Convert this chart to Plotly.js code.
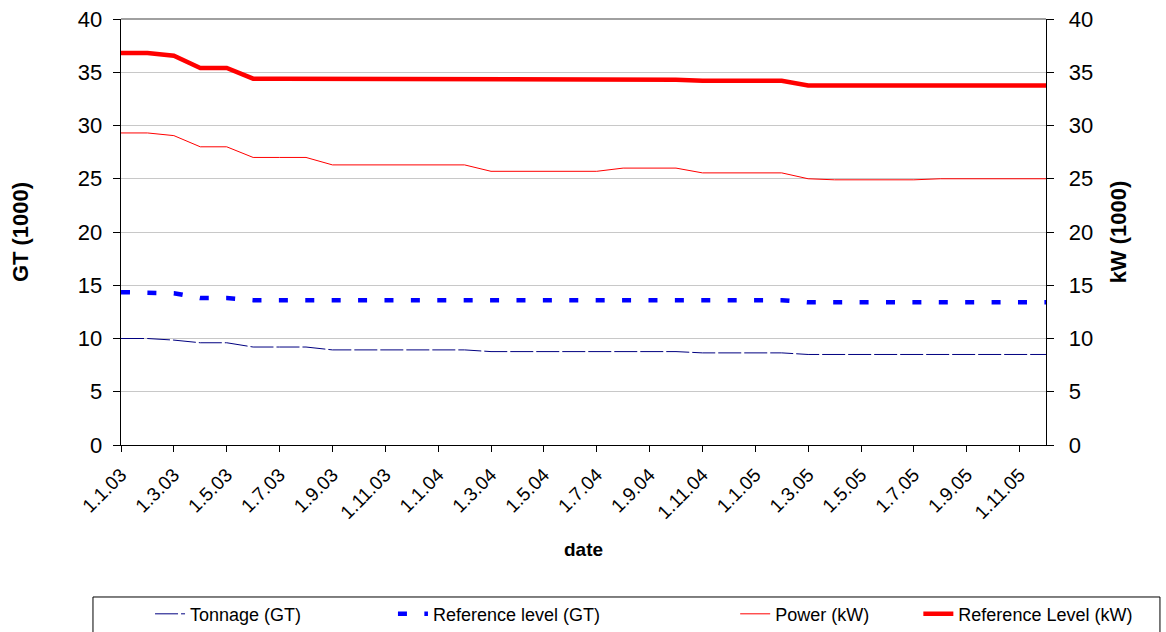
<!DOCTYPE html>
<html>
<head>
<meta charset="utf-8">
<script src="https://cdn.plot.ly/plotly-3.0.1.min.js"></script>
<style>html,body{margin:0;padding:0;background:#fff;}#chart{width:1166px;height:632px;}</style>
</head>
<body>
<div id="chart"></div>
<script>
// Months (d.m.yy), one data point per month
const months = [
  "1.1.03","1.2.03","1.3.03","1.4.03","1.5.03","1.6.03","1.7.03","1.8.03","1.9.03","1.10.03","1.11.03","1.12.03",
  "1.1.04","1.2.04","1.3.04","1.4.04","1.5.04","1.6.04","1.7.04","1.8.04","1.9.04","1.10.04","1.11.04","1.12.04",
  "1.1.05","1.2.05","1.3.05","1.4.05","1.5.05","1.6.05","1.7.05","1.8.05","1.9.05","1.10.05","1.11.05","1.12.05"
];
// Tick labels shown on the x axis
const tickLabels = [
  "1.1.03","1.3.03","1.5.03","1.7.03","1.9.03","1.11.03",
  "1.1.04","1.3.04","1.5.04","1.7.04","1.9.04","1.11.04",
  "1.1.05","1.3.05","1.5.05","1.7.05","1.9.05","1.11.05"
];
// Series values (thousands)
const tonnageGT = [10.0,10.0,9.85,9.6,9.6,9.2,9.2,9.2,8.93,8.93,8.93,8.93,8.93,8.93,
  8.77,8.77,8.77,8.77,8.77,8.77,8.77,8.77,8.65,8.65,8.65,8.65,
  8.5,8.5,8.5,8.5,8.5,8.5,8.5,8.5,8.5,8.5];
const refLevelGT = [14.35,14.35,14.25,13.8,13.8,13.6,13.6,13.6,13.6,13.6,13.6,13.6,13.6,13.6,
  13.6,13.6,13.6,13.6,13.6,13.6,13.6,13.6,13.6,13.6,13.6,13.6,
  13.4,13.4,13.4,13.4,13.4,13.4,13.4,13.4,13.4,13.4];
const powerKW = [29.3,29.3,29.05,28.0,28.0,27.0,27.0,27.0,26.3,26.3,26.3,26.3,26.3,26.3,
  25.7,25.7,25.7,25.7,25.7,26.0,26.0,26.0,25.55,25.55,25.55,25.55,
  25.0,24.9,24.9,24.9,24.9,25.0,25.0,25.0,25.0,25.0];
const refLevelKW = [36.8,36.8,36.55,35.4,35.4,34.4,34.4,34.4,34.4,34.4,34.4,34.4,34.4,34.4,
  34.3,34.3,34.3,34.3,34.3,34.3,34.3,34.3,34.2,34.2,34.2,34.2,
  33.75,33.75,33.75,33.75,33.75,33.75,33.75,33.75,33.75,33.75];

const FONT = "Liberation Sans, Arial, sans-serif";

const traces = [
  {x: months, y: tonnageGT, name: "Tonnage (GT)", type: "scatter", mode: "lines",
   line: {color: "#000080", width: 1, dash: "23px,3px"}, yaxis: "y", legend: "legend"},
  {x: months, y: refLevelGT, name: "Reference level (GT)", type: "scatter", mode: "lines",
   line: {color: "#0000FF", width: 4.5, dash: "9px,17.4px"}, yaxis: "y", legend: "legend2"},
  {x: months, y: powerKW, name: "Power (kW)", type: "scatter", mode: "lines",
   line: {color: "#FF0000", width: 1}, yaxis: "y2", legend: "legend3"},
  {x: months, y: refLevelKW, name: "Reference Level (kW)", type: "scatter", mode: "lines",
   line: {color: "#FF0000", width: 4.5}, yaxis: "y2", legend: "legend4"}
];

const legendBase = {orientation: "h", yanchor: "middle", y: -0.397, xanchor: "left",
  font: {family: FONT, size: 18, color: "#000"}, bgcolor: "rgba(0,0,0,0)", borderwidth: 0};

const layout = {
  width: 1166, height: 632,
  margin: {l: 121, r: 120, t: 19, b: 187, pad: 0, autoexpand: false},
  paper_bgcolor: "#fff", plot_bgcolor: "#fff",
  font: {family: FONT, color: "#000"},
  showlegend: true,
  xaxis: {
    type: "category", categoryorder: "array", categoryarray: months,
    range: [0, months.length - 1],
    tickmode: "array", tickvals: tickLabels, ticktext: tickLabels,
    tickangle: -45, tickfont: {family: FONT, size: 19, color: "#000"},
    ticks: "outside", ticklen: 6, tickcolor: "#000", tickwidth: 1,
    ticklabelstandoff: 4,
    showline: true, linecolor: "#000", linewidth: 1.3,
    showgrid: false, zeroline: false
  },
  yaxis: {
    range: [0, 40], dtick: 5, tick0: 0,
    tickfont: {family: FONT, size: 22, color: "#000"},
    ticks: "outside", ticklen: 7, tickcolor: "#000", tickwidth: 1,
    ticklabelstandoff: 6,
    showline: true, linecolor: "#000", linewidth: 1.3,
    showgrid: true, gridcolor: "#c8c8c8", gridwidth: 1, zeroline: false,
    title: {text: "GT (1000)", font: {family: FONT, size: 22, weight: 700, color: "#000"}, standoff: 43}
  },
  yaxis2: {
    overlaying: "y", side: "right", anchor: "x",
    range: [0, 40], dtick: 5, tick0: 0,
    tickfont: {family: FONT, size: 22, color: "#000"},
    ticks: "outside", ticklen: 7, tickcolor: "#000", tickwidth: 1,
    ticklabelstandoff: 10,
    showline: true, linecolor: "#000", linewidth: 1.3,
    showgrid: false, zeroline: false,
    title: {text: "kW (1000)", font: {family: FONT, size: 22, weight: 700, color: "#000"}, standoff: 18}
  },
  yaxis3: {
    overlaying: "y", side: "right", anchor: "x",
    range: [0, 40], dtick: 5, tick0: 0,
    ticks: "inside", ticklen: 8, tickcolor: "#000", tickwidth: 1,
    showticklabels: false, showline: false, showgrid: false, zeroline: false
  },
  legend: Object.assign({}, legendBase, {x: 0.0314}),
  legend2: Object.assign({}, legendBase, {x: 0.294}),
  legend3: Object.assign({}, legendBase, {x: 0.664}),
  legend4: Object.assign({}, legendBase, {x: 0.862}),
  annotations: [
    {text: "date", xref: "paper", yref: "paper", x: 0.5, y: -0.245, showarrow: false,
     xanchor: "center", yanchor: "middle", font: {family: FONT, size: 19, weight: 700, color: "#000"}}
  ],
  shapes: [
    {type: "line", xref: "paper", yref: "paper", x0: 0, x1: 1, y0: 1, y1: 1,
     line: {color: "#808080", width: 1.3}, layer: "below"},
    {type: "rect", xref: "paper", yref: "paper", x0: -0.0303, x1: 1.1232, y0: -0.3568, y1: -0.48,
     line: {color: "#000", width: 1}, fillcolor: "rgba(0,0,0,0)"}
  ]
};

Plotly.newPlot("chart", traces, layout, {staticPlot: true, displayModeBar: false});
</script>
</body>
</html>
